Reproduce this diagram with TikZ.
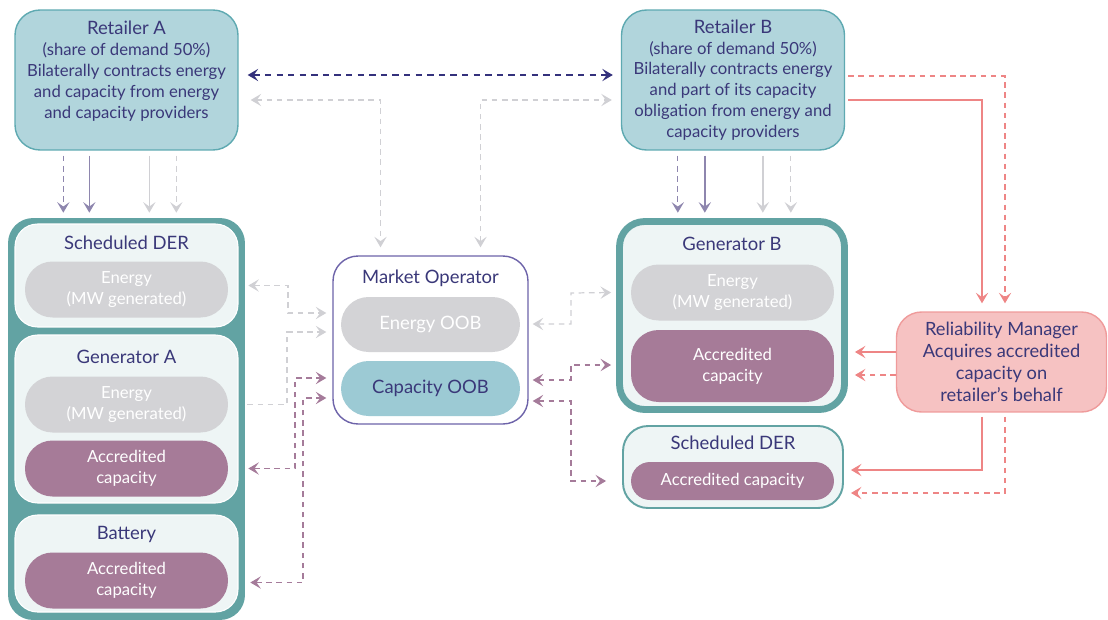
\documentclass[tikz,border=0pt]{standalone}
\usepackage{fontspec}
\setmainfont{Lato}
\usetikzlibrary{arrows.meta,calc,positioning}

\definecolor{navy}{HTML}{3A3879}
\definecolor{tealdark}{HTML}{62A3A3}
\definecolor{panel}{HTML}{EEF5F5}
\definecolor{retail}{HTML}{B1D5DC}
\definecolor{retailedge}{HTML}{5EA9B1}
\definecolor{pillgrey}{HTML}{D3D3D6}
\definecolor{pillpurple}{HTML}{A67B98}
\definecolor{pillblue}{HTML}{9CCAD4}
\definecolor{moedge}{HTML}{6D63A9}
\definecolor{rmfill}{HTML}{F6C2C2}
\definecolor{rmedge}{HTML}{EF9B9B}
\definecolor{linkpink}{HTML}{EE8585}
\definecolor{linkmauve}{HTML}{A57B9A}
\definecolor{linklilac}{HTML}{8E86AE}
\definecolor{linkgrey}{HTML}{D0D0D4}
\definecolor{linknavy}{HTML}{34317C}

\newcommand\ttl{\fontsize{10.5}{12}\selectfont}

\tikzset{
  >={Stealth[length=6pt,width=7pt,inset=2.5pt]},
  dashes/.style={dash pattern=on 3.2pt off 2.6pt},
  greydash/.style={draw=linkgrey, line width=0.7pt, dashes},
  greyline/.style={draw=linkgrey, line width=0.8pt},
  lilacdash/.style={draw=linklilac, line width=0.7pt, dashes},
  lilacline/.style={draw=linklilac, line width=0.8pt},
  mauvedash/.style={draw=linkmauve, line width=0.7pt, dashes},
  navydash/.style={draw=linknavy, line width=0.8pt, dash pattern=on 3.6pt off 3pt},
  pinkline/.style={draw=linkpink, line width=0.8pt},
  pinkdash/.style={draw=linkpink, line width=0.7pt, dashes},
}

\begin{document}
\begin{tikzpicture}[
  x=0.02cm, y=-0.02cm,
  font=\fontsize{9.5}{11.9}\selectfont,
  box/.style = {
    rounded corners=0.5cm,
    align=center,
    text=navy,
    inner sep=0pt
  },
  retailer/.style = {
    box,
    fill=retail,
    draw=retailedge,
    line width=0.8pt,
    minimum width=4.46cm,
    minimum height=2.8cm
  },
  panelbox/.style = {
    box,
    rounded corners=0.45cm,
    fill=panel,
    draw=white,
    line width=0.6pt,
    minimum width=4.46cm
  },
  pill/.style = {
    box,
    rounded corners=0.55cm,
    minimum width=4.06cm,
    minimum height=1.12cm,
    text=white
  },
  energy/.style = {pill, fill=pillgrey},
  accred/.style = {pill, fill=pillpurple},
  title/.style = {text=navy, font=\ttl, inner sep=0pt},
]
  \useasboundingbox (0,0) rectangle (1108,619);

  % retailers
  \node (retA)[retailer] at (126.5,80) {{\ttl Retailer A}\\
    (share of demand 50\%)\\
    Bilaterally contracts energy\\
    and capacity from energy\\
    and capacity providers\\ \mbox{}};
  \node (retB)[retailer] at (733,80) {{\ttl Retailer B}\\
    (share of demand 50\%)\\
    Bilaterally contracts energy\\
    and part of its capacity\\
    obligation from energy and\\
    capacity providers};

  % left column of providers
  \node (colA)[
    box,
    fill=tealdark,
    minimum width=4.74cm,
    minimum height=8.04cm
  ] at (126.5,419) {};
  \node (sderA)[panelbox, minimum height=2.06cm] at (126.5,275.5) {};
  \node (sderAt)[title] at (126.5,243) {Scheduled DER};
  \node (sderAE)[energy] at (126.5,289.5) {Energy\\(MW generated)};

  \node (genA)[panelbox, minimum height=3.36cm] at (126.5,419) {};
  \node (genAt)[title] at (126.5,357) {Generator A};
  \node (genAE)[energy] at (126.5,404.5) {Energy\\(MW generated)};
  \node (genAC)[accred] at (126.5,468.5) {Accredited\\capacity};

  \node (batA)[panelbox, minimum height=1.94cm] at (126.5,563.5) {};
  \node (batAt)[title] at (126.5,534) {Battery};
  \node (batAC)[accred] at (126.5,580.5) {Accredited\\capacity};

  % market operator
  \node (mo)[
    box,
    draw=moedge,
    line width=0.8pt,
    fill=white,
    minimum width=3.9cm,
    minimum height=3.36cm
  ] at (430.5,340) {};
  \node (mot)[title] at (430.5,278) {Market Operator};
  \node (moE)[pill, fill=pillgrey, font=\ttl, minimum width=3.58cm, minimum height=1.1cm]
    at (430.5,324.5) {Energy OOB};
  \node (moC)[pill, fill=pillblue, text=navy, font=\ttl, minimum width=3.58cm, minimum height=1.1cm]
    at (430.5,388.5) {Capacity OOB};

  % right side providers
  \node (genB)[
    box,
    fill=panel,
    draw=tealdark,
    line width=3.9pt,
    minimum width=4.5cm,
    minimum height=3.76cm
  ] at (732,315.5) {};
  \node (genBt)[title] at (732,244) {Generator B};
  \node (genBE)[energy] at (732.5,292.5) {Energy\\(MW generated)};
  \node (genBC)[accred, minimum height=1.44cm] at (732.5,366) {Accredited\\capacity};

  \node (sderB)[
    box,
    fill=panel,
    draw=tealdark,
    line width=1.1pt,
    minimum width=4.4cm,
    minimum height=1.64cm
  ] at (733,467) {};
  \node (sderBt)[title] at (733,443) {Scheduled DER};
  \node (sderBC)[accred, rounded corners=0.38cm, minimum height=0.76cm]
    at (732.5,481) {Accredited capacity};

  % reliability manager
  \node (rm)[
    box,
    fill=rmfill,
    draw=rmedge,
    line width=0.8pt,
    font=\fontsize{10.4}{12.4}\selectfont,
    minimum width=4.2cm,
    minimum height=2cm
  ] at (1001.5,362) {Reliability Manager\\
    Acquires accredited\\
    capacity on\\
    retailer's behalf};

  % retailer to retailer / market operator
  \draw[navydash, <->] ($(retA.east)+(9,-5)$) -- ($(retB.west)+(-8,-5)$);
  \draw[greydash, <->] ($(retA.east)+(12,20)$) -| ($(mo.north)+(-50,-8)$);
  \draw[greydash, <->] ($(mo.north)+(50,-8)$) |- ($(retB.west)+(-9,20)$);

  % retailer A down to the left column
  \draw[lilacdash, ->] ($(retA.south west)+(49,5)$) -- ++(0,57);
  \draw[lilacline, ->] ($(retA.south west)+(75,5)$) -- ++(0,57);
  \draw[greyline, ->] ($(retA.south west)+(135,5)$) -- ++(0,57);
  \draw[greydash, ->] ($(retA.south west)+(162,5)$) -- ++(0,57);

  % retailer B down to generator B
  \draw[lilacdash, ->] ($(retB.south west)+(57,5)$) -- ++(0,57);
  \draw[lilacline, ->] ($(retB.south west)+(84,5)$) -- ++(0,57);
  \draw[greyline, ->] ($(retB.south west)+(142,5)$) -- ++(0,57);
  \draw[greydash, ->] ($(retB.south west)+(170,5)$) -- ++(0,57);

  % retailer B to reliability manager
  \draw[pinkline, ->] ($(retB.east)+(3,20)$) -| ($(rm.north)+(-19.5,-8)$);
  \draw[pinkdash, ->] ($(retB.east)+(3,-4)$) -| ($(rm.north)+(3.5,-8)$);

  % reliability manager to right providers
  \draw[pinkline, ->] ($(rm.west)+(0,-10)$) -- ($(rm.west -| genB.east)+(7,-10)$);
  \draw[pinkdash, ->] ($(rm.west)+(0,13)$) -- ($(rm.west -| genB.east)+(7,13)$);
  \draw[pinkline, ->] ($(rm.south)+(-19.5,4)$) |- ($(sderB.east)+(7,3)$);
  \draw[pinkdash, ->] ($(rm.south)+(3.5,4)$) |- ($(sderB.east)+(7,26)$);

  % left column to market operator
  \draw[greydash, <->] ($(colA.east |- sderAE)+(3,-4)$) -| (288,313) -- ($(mo.west)+(-6,-27)$);
  \draw[greydash, ->] ($(colA.east |- genAE)+(2,0)$) -| (287,332) -- ($(mo.west)+(-6,-8)$);
  \draw[mauvedash, <->] ($(colA.east |- genAC)+(3,0)$) -| (295,378) -- ($(mo.west)+(-6,38)$);
  \draw[mauvedash, <->] ($(colA.east |- batAC)+(5,2)$) -| (303,398) -- ($(mo.west)+(-6,58)$);

  % market operator to right providers
  \draw[greydash, <->] ($(mo.east)+(4,-16)$) -| (571,293) -- ($(genB.west |- genBE)+(-5,0)$);
  \draw[mauvedash, <->] ($(mo.east)+(4,40)$) -| (571,365) -- ($(genB.west |- genBC)+(-5,-1)$);
  \draw[mauvedash, <->] ($(mo.east)+(4,61)$) -| (571,481) -- ($(sderB.west |- sderBC)+(-16,0)$);
\end{tikzpicture}
\end{document}
